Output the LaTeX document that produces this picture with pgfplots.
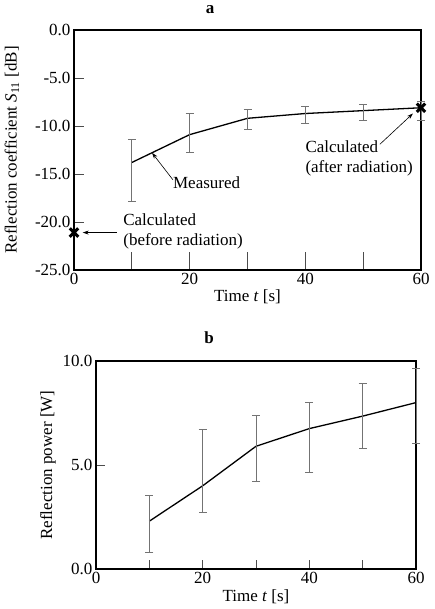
\documentclass[border=0pt]{standalone}
\usepackage{fontspec}
\setmainfont{Liberation Serif}
\usepackage{pgfplots}
\pgfplotsset{compat=1.18}
\usetikzlibrary{arrows.meta}
\newcommand{\fs}{\fontsize{17}{19.5}\selectfont}
\begin{document}
\begin{tikzpicture}[x=1pt,y=1pt]
\path[use as bounding box] (0,0) rectangle (435,609);
\node[font=\fs\bfseries] at (210,599) {a};
\node[font=\fs\bfseries] at (209,271) {b};
\pgfplotsset{
  every axis/.append style={
    scale only axis, clip=false, axis line style={line width=1.6pt},
    tick align=inside, tick pos=left, tick style={black!70, line width=0.7pt},
    tick label style={font=\fs}, label style={font=\fs},
    /pgf/number format/assume math mode=true,
    xmin=0, xmax=60, xtick={0,10,...,60}, xticklabels={0,,20,,40,,60},
  },
}
\begin{axis}[
  at={(74pt,339pt)}, anchor=south west, width=347pt, height=240pt,
  ymin=-25, ymax=0, ytick={-25,-20,...,0},
  yticklabels={-25.0,-20.0,-15.0,-10.0,-5.0,0.0},
  major tick length=10pt,
  xtick style={/pgfplots/major tick length=18pt},
  xlabel={Time \textit{t} [s]},
  xlabel style={at={(axis description cs:0.5,-0.1125)}, anchor=center},
  ylabel={Reflection coefficient \textit{S}\textsubscript{11} [dB]},
  ylabel style={at={(axis description cs:-0.179,0.5)}, anchor=center},
]
\addplot[black, line width=1.3pt, mark=none,
  error bars/.cd, y dir=both, y explicit,
  error bar style={black!55, line width=0.8pt},
  error mark options={black!55, line width=0.8pt, rotate=90, mark size=4pt}]
coordinates {
  (10,-13.8) += (0,2.4) -= (0,4.1)
  (20,-10.9) += (0,2.2) -= (0,1.9)
  (30,-9.2) += (0,0.9) -= (0,1.2)
  (40,-8.7) += (0,0.7) -= (0,1.0)
  (50,-8.4) += (0,0.7) -= (0,1.0)
  (60,-8.1) += (0,0.7) -= (0,1.3)
};
\addplot[only marks, mark=x, mark size=6pt, line width=3pt, black]
coordinates {(0,-21.1) (60,-8.1)};
\draw[-{Stealth[length=6pt,width=4pt]}, line width=0.6pt] (axis cs:17.1,-15.6) -- (axis cs:13.5,-12.8);
\node[font=\fs, anchor=west, inner sep=0pt] at (axis cs:17.1,-15.9) {Measured};
\draw[-{Stealth[length=6pt,width=4pt]}, line width=0.6pt] (axis cs:52.9,-11.9) -- (axis cs:58.6,-8.7);
\node[font=\fs, anchor=west, align=left, inner sep=0pt] at (axis cs:40.0,-13.4) {Calculated\\(after radiation)};
\draw[-{Stealth[length=6pt,width=4pt]}, line width=0.6pt] (axis cs:7.4,-21.1) -- (axis cs:1.5,-21.1);
\node[font=\fs, anchor=west, align=left, inner sep=0pt] at (axis cs:8.5,-21.0) {Calculated\\(before radiation)};
\end{axis}
\begin{axis}[
  at={(96pt,40pt)}, anchor=south west, width=320pt, height=208pt,
  ymin=0, ymax=10, ytick={0,5,10},
  yticklabels={0.0,5.0,10.0},
  major tick length=9pt,
  xlabel={Time \textit{t} [s]},
  xlabel style={at={(axis description cs:0.5,-0.135)}, anchor=center},
  ylabel={Reflection power [W]},
  ylabel style={at={(axis description cs:-0.15,0.5)}, anchor=center},
]
\addplot[black, line width=1.3pt, mark=none,
  error bars/.cd, y dir=both, y explicit,
  error bar style={black!55, line width=0.8pt},
  error mark options={black!55, line width=0.8pt, rotate=90, mark size=4pt}]
coordinates {
  (10,2.3) += (0,1.25) -= (0,1.5)
  (20,4.0) += (0,2.7) -= (0,1.3)
  (30,5.9) += (0,1.5) -= (0,1.7)
  (40,6.75) += (0,1.25) -= (0,2.1)
  (50,7.35) += (0,1.55) -= (0,1.55)
  (60,8.0) += (0,1.65) -= (0,1.95)
};
\end{axis}
\end{tikzpicture}
\end{document}
